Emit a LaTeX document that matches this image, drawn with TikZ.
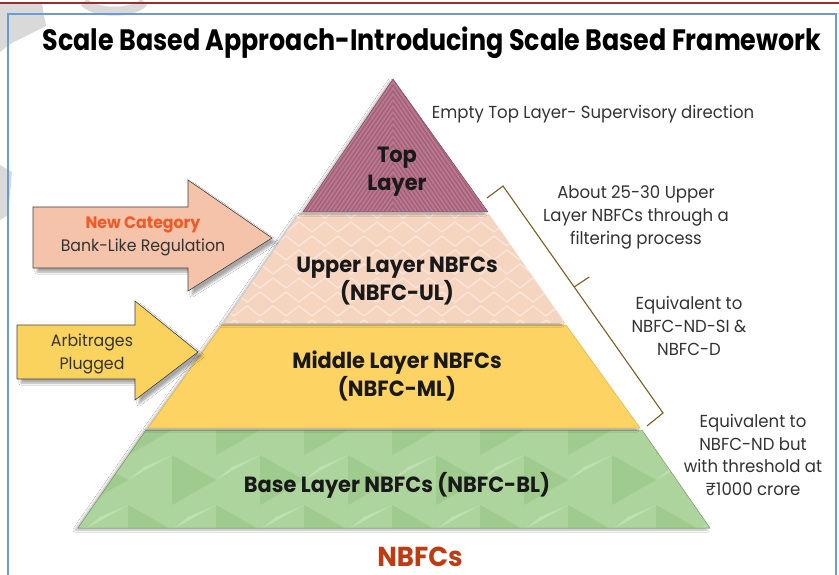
\documentclass[tikz,border=0pt]{standalone}
\usepackage{fontspec}
\setmainfont{Poppins}[FakeStretch=0.95]
\newfontfamily\narrowfont{Poppins}[FakeStretch=0.86]
\usetikzlibrary{shadows.blur,calc}
\definecolor{topc}{HTML}{A5607A}
\definecolor{topl}{HTML}{B97A90}
\definecolor{upc}{HTML}{F5D4C0}
\definecolor{upl}{HTML}{FBE6DA}
\definecolor{midc}{HTML}{FDD464}
\definecolor{midd}{HTML}{E2B84A}
\definecolor{basec}{HTML}{AED49D}
\definecolor{based}{HTML}{A0CB8F}
\definecolor{basel}{HTML}{BEDFB0}
\definecolor{arrowpeach}{HTML}{F4C3AA}
\definecolor{arrowyel}{HTML}{FAD35E}
\definecolor{newcat}{HTML}{F05A28}
\definecolor{nbfcred}{HTML}{BF3B12}
\definecolor{brk}{HTML}{7B5E24}
\definecolor{frameblue}{HTML}{6B9BD6}
\definecolor{topred}{HTML}{9E2B2B}
\definecolor{txt}{HTML}{333333}
\definecolor{wm}{HTML}{D9D9D9}
\begin{document}
\begin{tikzpicture}[x=1pt,y=-1pt,
  lbl/.style={font=\bfseries\fontsize{22}{28}\selectfont, text=black!90, align=center, inner sep=0pt},
  note/.style={font=\fontsize{17.4}{22.7}\selectfont, text=txt, align=center, inner sep=0pt},
  arrowtxt/.style={font=\fontsize{16.6}{23}\selectfont, text=txt, align=center, inner sep=0pt},
  layershadow/.style={blur shadow={shadow xshift=-3pt, shadow yshift=-2pt, shadow blur steps=6, shadow opacity=30}},
  arrowbox/.style={draw=black!75, line width=0.6pt, line join=miter, blur shadow={shadow xshift=4pt, shadow yshift=-4pt, shadow blur steps=6, shadow opacity=35}},
  bracket/.style={draw=brk, line width=1.1pt}]
\useasboundingbox (0,0) rectangle (839,575);
\fill[white] (0,0) rectangle (839,575);
% watermark
\fill[wm] (0,4) -- (42,4) -- (46,26) -- (10,44) -- (0,52) -- cycle;
\draw[wm, line width=9pt] (84,2) arc[start angle=200, end angle=340, x radius=32, y radius=-14];
\fill[wm] (0,165) -- (12,172) -- (8,215) -- (0,220) -- cycle;
% top rule and frame
\draw[topred, line width=2pt] (0,3) -- (839,3);
\draw[frameblue, line width=1.2pt] (8,590) -- (8,14) -- (836,14) -- (836,590);
% title
\node[font=\narrowfont\bfseries\fontsize{29.5}{34}\selectfont, inner sep=0pt] (title) at (432,43) {Scale Based Approach-Introducing Scale Based Framework};
% base layer
\path[layershadow, fill=basec] (146,430) -- (642,430) -- (710,528) -- (78,528) -- cycle;
\begin{scope}
  \clip (146,430) -- (642,430) -- (710,528) -- (78,528) -- cycle;
  \foreach \c in {0,...,8}{
    \foreach \r in {0,1,2}{
      \pgfmathsetmacro{\xx}{40+88*\c+44*mod(\r,2)}
      \pgfmathsetmacro{\yy}{405+50*\r}
      \fill[based] (\xx,\yy) -- (\xx+44,\yy+25) -- (\xx,\yy+50) -- cycle;
      \fill[basel] (\xx+44,\yy+25) -- (\xx+88,\yy) -- (\xx+60,\yy+12) -- cycle;
    }}
\end{scope}
\draw[basec!70!black, line width=0.5pt] (146,430) -- (642,430) -- (710,528) -- (78,528) -- cycle;
% middle layer
\path[layershadow, fill=midc] (222,325) -- (566,325) -- (640,428) -- (148,428) -- cycle;
\draw[midd, line width=0.6pt] (222,325) -- (566,325) -- (640,428) -- (148,428) -- cycle;
% upper layer
\path[layershadow, fill=upc] (299,214) -- (489,214) -- (565,323) -- (224,323) -- cycle;
\begin{scope}
  \clip (299,214) -- (489,214) -- (565,323) -- (224,323) -- cycle;
  \foreach \r in {0,...,8}{
    \foreach \c in {0,...,14}{
      \pgfmathsetmacro{\xx}{208+26*\c+13*mod(\r,2)}
      \pgfmathsetmacro{\yy}{208+14*\r}
      \draw[upl, line width=1.3pt] (\xx,\yy) -- (\xx+13,\yy+10) -- (\xx+26,\yy);
    }}
\end{scope}
% top layer
\path[layershadow, fill=topc] (393,79) -- (488,212) -- (303,212) -- cycle;
\begin{scope}
  \clip (393,79) -- (488,212) -- (303,212) -- cycle;
  \foreach \k in {0,...,24}{
    \pgfmathsetmacro{\yy}{70+6*\k}
    \draw[topl, line width=1.6pt] (293,\yy+145) -- (393,\yy) -- (493,\yy+145);
  }
\end{scope}
\draw[topc!80!black, line width=0.5pt] (393,79) -- (488,212) -- (303,212) -- cycle;
% layer labels
\node[lbl] (toplbl) at (397,172) {Top\\Layer};
\node[lbl] (uplbl) at (397,281) {Upper Layer NBFCs\\(NBFC-UL)};
\node[lbl] (midlbl) at (397,376) {Middle Layer NBFCs\\(NBFC-ML)};
\node[lbl] (baselbl) at (397,485) {Base Layer NBFCs (NBFC-BL)};
\node[font=\bfseries\fontsize{27.4}{30}\selectfont, text=nbfcred, inner sep=0pt] (nbfcs) at (420,557) {NBFCs};
% left arrows
\path[arrowbox, fill=arrowpeach] (33,207) -- (188,207) -- (188,180) -- (272,238) -- (188,291) -- (188,268) -- (33,268) -- cycle;
\node[arrowtxt] (newcat) at (143,236.5) {{\bfseries\color{newcat}New Category}\\Bank-Like Regulation};
\path[arrowbox, fill=arrowyel] (17,325) -- (135,325) -- (135,301) -- (198,352) -- (135,400) -- (135,379) -- (17,379) -- cycle;
\node[arrowtxt] (arb) at (92,354) {Arbitrages\\Plugged};
% right notes
\node[note] (n1) at (593,114) {Empty Top Layer- Supervisory direction};
\node[note] (n2) at (636,217.5) {About 25-30 Upper\\Layer NBFCs through a\\filtering process};
\node[note] (n3) at (689,326) {Equivalent to\\NBFC-ND-SI \&\\NBFC-D};
\node[note] (n4) at (753,455) {Equivalent to\\NBFC-ND but\\with threshold at\\₹1000 crore};
% bracket
\coordinate (b1) at (487,198);
\coordinate (b2) at (503,186);
\coordinate (b3) at (663,413);
\coordinate (b4) at (647,426);
\coordinate (t1) at ($(b2)!0.445!(b3)$);
\coordinate (t2) at ($(t1)+(15,-10)$);
\draw[bracket] (b1) -- (b2) -- (b3) -- (b4);
\draw[bracket] (t1) -- (t2);
\end{tikzpicture}
\end{document}
